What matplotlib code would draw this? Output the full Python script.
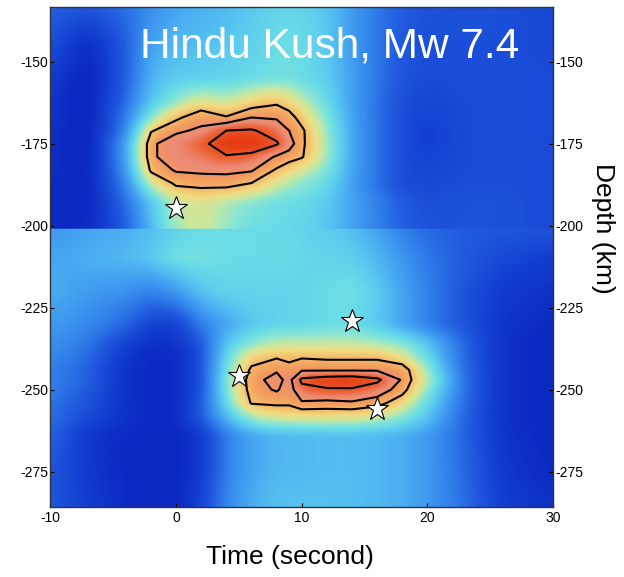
import numpy as np
import matplotlib
matplotlib.use("Agg")
import matplotlib.pyplot as plt
from matplotlib.colors import LinearSegmentedColormap

plt.rcParams['font.family'] = ['Liberation Sans', 'DejaVu Sans']
plt.rcParams['axes.unicode_minus'] = False

# ---- back-projection power (normalised) on a time x depth grid ----
times = [-10, -7, -4, -2, 0, 2, 4, 6, 8, 9, 10, 12, 14, 16, 18, 20, 23, 26, 30]

# upper imaging window (above ~201 km)
depth_upper = [-133, -145, -155, -162, -167, -171, -175, -179, -183, -187, -193, -200.5]
power_upper = [
    [.24, .21, .26, .33, .38, .40, .42, .45, .48, .49, .48, .45, .36, .28, .22, .20, .20, .19, .17],
    [.20, .08, .22, .38, .42, .43, .45, .47, .50, .51, .50, .46, .36, .28, .21, .19, .19, .19, .17],
    [.14, .05, .22, .42, .46, .47, .48, .50, .52, .52, .50, .47, .37, .28, .20, .18, .19, .19, .18],
    [.12, .05, .25, .45, .55, .64, .58, .66, .70, .66, .60, .50, .37, .27, .19, .16, .18, .19, .18],
    [.12, .05, .28, .55, .70, .78, .73, .80, .79, .76, .68, .54, .37, .27, .18, .15, .18, .19, .18],
    [.10, .05, .30, .71, .79, .81, .90, .91, .86, .80, .74, .56, .38, .27, .18, .14, .18, .19, .18],
    [.10, .05, .35, .79, .83, .87, .97, .97, .91, .84, .74, .58, .38, .27, .18, .14, .18, .19, .18],
    [.10, .05, .35, .79, .83, .84, .89, .87, .79, .76, .73, .57, .38, .27, .18, .15, .18, .19, .18],
    [.10, .06, .33, .74, .81, .82, .82, .81, .71, .66, .62, .54, .38, .27, .18, .16, .18, .19, .18],
    [.08, .06, .30, .62, .74, .75, .76, .72, .62, .58, .55, .50, .37, .27, .18, .17, .19, .19, .18],
    [.08, .06, .25, .45, .60, .63, .58, .54, .51, .50, .50, .46, .38, .30, .22, .19, .20, .20, .18],
    [.08, .08, .22, .42, .58, .62, .56, .50, .50, .49, .48, .45, .38, .30, .23, .20, .20, .20, .18],
]

# lower imaging window (below ~201 km)
depth_lower = [-201.5, -210, -220, -230, -236, -240, -244, -247, -250, -254, -258, -264, -274, -286]
power_lower = [
    [.35, .38, .40, .43, .48, .50, .50, .50, .50, .50, .48, .46, .44, .38, .30, .25, .22, .21, .20],
    [.38, .40, .42, .45, .52, .52, .50, .50, .50, .50, .49, .48, .47, .42, .35, .28, .22, .17, .14],
    [.40, .36, .34, .30, .35, .45, .48, .48, .48, .48, .48, .50, .52, .46, .38, .30, .20, .13, .10],
    [.36, .32, .25, .15, .14, .30, .38, .45, .48, .48, .48, .50, .50, .46, .38, .30, .20, .11, .08],
    [.34, .28, .15, .10, .10, .20, .45, .55, .60, .60, .60, .60, .60, .58, .55, .45, .24, .10, .07],
    [.32, .26, .12, .08, .08, .18, .50, .67, .71, .69, .71, .70, .70, .70, .64, .50, .24, .10, .07],
    [.30, .24, .10, .08, .08, .18, .52, .74, .79, .76, .79, .79, .79, .79, .78, .56, .25, .10, .07],
    [.30, .24, .10, .08, .08, .18, .54, .77, .83, .77, .92, .95, .96, .92, .79, .60, .26, .10, .07],
    [.30, .22, .10, .08, .08, .18, .54, .76, .81, .76, .87, .89, .89, .85, .76, .55, .26, .10, .07],
    [.28, .20, .10, .08, .08, .20, .50, .73, .74, .74, .79, .78, .79, .76, .66, .50, .25, .10, .07],
    [.27, .18, .10, .08, .08, .22, .42, .60, .64, .64, .65, .65, .65, .62, .56, .45, .24, .10, .07],
    [.25, .12, .08, .07, .07, .12, .30, .38, .42, .42, .42, .43, .43, .42, .40, .36, .24, .11, .07],
    [.22, .12, .08, .07, .07, .12, .30, .38, .42, .42, .42, .43, .43, .42, .40, .36, .25, .12, .08],
    [.22, .14, .08, .07, .08, .15, .32, .40, .44, .44, .44, .44, .43, .42, .40, .36, .26, .14, .10],
]

contour_levels = [0.72, 0.80, 0.90]

# hypocentre / sub-event locations
star_time = [0, 14, 5, 16]
star_depth = [-194.7, -229, -245.8, -256]

title_text = "Hindu Kush, Mw 7.4"


def resample(t_nodes, d_nodes, z, t_new, d_new):
    """Bilinear resampling of a rectilinear grid onto new axes."""
    t_nodes = np.asarray(t_nodes, float)
    d_nodes = np.asarray(d_nodes, float)
    z = np.asarray(z, float)
    rows = np.array([np.interp(t_new, t_nodes, r) for r in z])
    order = np.argsort(d_nodes)
    ds = d_nodes[order]
    rows = rows[order]
    return np.array([np.interp(d_new, ds, rows[:, j]) for j in range(len(t_new))]).T


def gauss_blur(a, sy, sx):
    def kern(s):
        r = int(3 * s)
        x = np.arange(-r, r + 1)
        k = np.exp(-0.5 * (x / s) ** 2)
        return k / k.sum(), r
    ky, ry = kern(sy)
    kx, rx = kern(sx)
    p = np.pad(a, ((0, 0), (rx, rx)), mode='edge')
    a = np.array([np.convolve(row, kx, mode='valid') for row in p])
    p = np.pad(a, ((ry, ry), (0, 0)), mode='edge')
    a = np.array([np.convolve(col, ky, mode='valid') for col in p.T]).T
    return a


dt, dd = 0.125, 0.25
t_fine = -10 + dt / 2 + dt * np.arange(320)
d_low = -286 + dd / 2 + dd * np.arange(340)
d_up = -201 + dd / 2 + dd * np.arange(272)

img_low = gauss_blur(resample(times, depth_lower, power_lower, t_fine, d_low), 4, 6)
img_up = gauss_blur(resample(times, depth_upper, power_upper, t_fine, d_up), 4, 6)
image = np.vstack([img_low, img_up])


def rgb(r, g, b):
    return (r / 255, g / 255, b / 255)


cmap = LinearSegmentedColormap.from_list("bp", [
    (0.00, rgb(8, 30, 175)),
    (0.08, rgb(12, 42, 195)),
    (0.15, rgb(20, 65, 210)),
    (0.22, rgb(32, 90, 222)),
    (0.30, rgb(50, 130, 235)),
    (0.38, rgb(70, 165, 242)),
    (0.45, rgb(90, 200, 240)),
    (0.50, rgb(105, 220, 230)),
    (0.55, rgb(140, 230, 210)),
    (0.60, rgb(200, 232, 160)),
    (0.65, rgb(240, 220, 130)),
    (0.72, rgb(245, 180, 100)),
    (0.78, rgb(242, 152, 95)),
    (0.83, rgb(236, 138, 118)),
    (0.87, rgb(236, 100, 55)),
    (0.94, rgb(230, 62, 22)),
    (1.00, rgb(225, 50, 15)),
])

fig = plt.figure(figsize=(6.24, 5.77), dpi=100)
ax = fig.add_axes([0.0808, 0.1213, 0.8054, 0.866])

ax.imshow(image, origin='lower', extent=[-10, 30, -286, -133], aspect='auto',
          cmap=cmap, vmin=0, vmax=1, interpolation='bilinear')

# contours from the raw grid
d_all = np.array(depth_lower[::-1] + depth_upper[::-1], float)
z_all = np.array(power_lower[::-1] + power_upper[::-1], float)
ax.contour(times, d_all, z_all, levels=contour_levels, colors='black', linewidths=1.5)

ax.plot(star_time, star_depth, linestyle='none', marker='*', markersize=17,
        markerfacecolor='white', markeredgecolor='black', markeredgewidth=0.8, zorder=5)

ax.set_xlim(-10, 30)
ax.set_ylim(-285.8, -133.4)
ax.set_xticks([-10, 0, 10, 20, 30])
ax.set_yticks([-275, -250, -225, -200, -175, -150])
ax.tick_params(axis='both', direction='in', length=3, width=0.8, labelsize=10,
               colors='black')
ax.tick_params(axis='y', left=True, right=True, labelleft=True, labelright=True, pad=1.5)
ax.tick_params(axis='x', pad=3)
for s in ax.spines.values():
    s.set_linewidth(1.0)
    s.set_color('#333333')

ax.text(0.178, 0.899, title_text, transform=ax.transAxes, color='white',
        fontsize=30.5, ha='left', va='baseline')

fig.text(290 / 624, 1 - 557 / 577, "Time (second)", fontsize=19, ha='center', va='center')
fig.text(603 / 624, 1 - 228 / 577, "Depth (km)", fontsize=19, rotation=270,
         ha='center', va='center')

fig.savefig("out.png", dpi=100)
